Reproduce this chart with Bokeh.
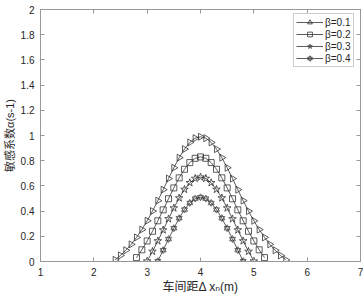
import math
from bokeh.plotting import figure
from bokeh.models import LinearAxis, FixedTicker, Legend, LegendItem, Range1d
from bokeh.embed import file_html
from bokeh.resources import INLINE

# ---- data ----
x1 = [2.4, 2.5, 2.6, 2.7, 2.8, 2.9, 3.0, 3.1, 3.2, 3.3, 3.4, 3.5, 3.6, 3.7, 3.8, 3.9, 4.0,
      4.1, 4.2, 4.3, 4.4, 4.5, 4.6, 4.7, 4.8, 4.9, 5.0, 5.1, 5.2, 5.3, 5.4, 5.5, 5.6]
y1 = [0.013, 0.048, 0.089, 0.136, 0.191, 0.253, 0.323, 0.400, 0.483, 0.570, 0.658, 0.744,
      0.824, 0.892, 0.945, 0.979, 0.990, 0.979, 0.945, 0.892, 0.824, 0.744, 0.658, 0.570,
      0.483, 0.400, 0.323, 0.253, 0.191, 0.136, 0.089, 0.048, 0.013]
x2 = [2.8, 2.9, 3.0, 3.1, 3.2, 3.3, 3.4, 3.5, 3.6, 3.7, 3.8, 3.9, 4.0,
      4.1, 4.2, 4.3, 4.4, 4.5, 4.6, 4.7, 4.8, 4.9, 5.0, 5.1, 5.2]
y2 = [0.031, 0.093, 0.163, 0.240, 0.323, 0.410, 0.498, 0.584, 0.664, 0.732, 0.785, 0.819,
      0.830, 0.819, 0.785, 0.732, 0.664, 0.584, 0.498, 0.410, 0.323, 0.240, 0.163, 0.093, 0.031]
x3 = [3.0, 3.1, 3.2, 3.3, 3.4, 3.5, 3.6, 3.7, 3.8, 3.9, 4.0,
      4.1, 4.2, 4.3, 4.4, 4.5, 4.6, 4.7, 4.8, 4.9, 5.0]
y3 = [0.003, 0.080, 0.163, 0.250, 0.338, 0.424, 0.504, 0.572, 0.625, 0.659, 0.670,
      0.659, 0.625, 0.572, 0.504, 0.424, 0.338, 0.250, 0.163, 0.080, 0.003]
x4 = [3.2, 3.3, 3.4, 3.5, 3.6, 3.7, 3.8, 3.9, 4.0, 4.1, 4.2, 4.3, 4.4, 4.5, 4.6, 4.7, 4.8]
y4 = [0.003, 0.090, 0.178, 0.264, 0.344, 0.412, 0.465, 0.499, 0.510,
      0.499, 0.465, 0.412, 0.344, 0.264, 0.178, 0.090, 0.003]
series_labels = ["β=0.1", "β=0.2", "β=0.3", "β=0.4"]

x_ticks = [1, 2, 3, 4, 5, 6, 7]
x_tick_labels = ["1", "2", "3", "4", "5", "6", "7"]
y_ticks = [0, 0.2, 0.4, 0.6, 0.8, 1, 1.2, 1.4, 1.6, 1.8, 2]
y_tick_labels = ["0", "0.2", "0.4", "0.6", "0.8", "1", "1.2", "1.4", "1.6", "1.8", "2"]

x_label = "车间距Δ xₙ(m)"
y_label = "敏感系数α(s-1)"

# ---- style ----
AXC = "#999999"
TXT = "#262626"
LC = "#333333"
NUMF = "Liberation Sans"
CJKF = "Liberation Sans, Noto Sans CJK SC, DejaVu Sans"

p = figure(width=363, height=297, output_backend="svg", toolbar_location=None,
           x_range=Range1d(1, 7), y_range=Range1d(0, 2),
           min_border_left=36, min_border_right=3, min_border_top=9, min_border_bottom=36)
p.grid.visible = False
p.outline_line_color = AXC
p.background_fill_color = "white"
p.border_fill_color = "white"

for ax, ticks, labels in [(p.xaxis[0], x_ticks, x_tick_labels), (p.yaxis[0], y_ticks, y_tick_labels)]:
    ax.ticker = FixedTicker(ticks=ticks)
    ax.major_label_overrides = dict(zip(ticks, labels))
    ax.major_tick_in = 4
    ax.major_tick_out = 0
    ax.minor_tick_line_color = None
    ax.axis_line_color = AXC
    ax.major_tick_line_color = AXC
    ax.major_label_text_font = NUMF
    ax.major_label_text_font_size = "10px"
    ax.major_label_text_color = TXT
    ax.major_label_standoff = 6
    ax.axis_label_text_font = CJKF
    ax.axis_label_text_font_style = "normal"
    ax.axis_label_text_color = TXT

p.xaxis[0].axis_label = x_label
p.xaxis[0].axis_label_text_font_size = "12px"
p.xaxis[0].axis_label_standoff = 1
p.yaxis[0].axis_label = y_label
p.yaxis[0].axis_label_text_font_size = "11px"
p.yaxis[0].axis_label_standoff = 2

for loc, ticks in [("right", y_ticks), ("above", x_ticks)]:
    ax = LinearAxis(ticker=FixedTicker(ticks=ticks),
                    major_label_overrides={t: "" for t in ticks},
                    major_label_text_font_size="0px", major_label_standoff=0,
                    major_tick_in=4, major_tick_out=0, minor_tick_line_color=None,
                    axis_line_color=AXC, major_tick_line_color=AXC)
    p.add_layout(ax, loc)

# ---- series ----
l1 = p.line(x1, y1, line_color=LC, line_width=0.8)
m1 = p.scatter(x1, y1, marker="triangle", size=7, angle=-math.pi / 2,
               fill_color=None, line_color=LC, line_width=0.8)
l2 = p.line(x2, y2, line_color=LC, line_width=0.8)
m2 = p.scatter(x2, y2, marker="square", size=6, fill_color=None, line_color=LC, line_width=0.8)
l3 = p.line(x3, y3, line_color=LC, line_width=0.8)
m3 = p.scatter(x3, y3, marker="star", size=8, fill_color=None, line_color=LC, line_width=0.8)
l4 = p.line(x4, y4, line_color=LC, line_width=0.8)
m4a = p.scatter(x4, y4, marker="triangle", size=6, fill_color=None, line_color=LC, line_width=0.7)
m4b = p.scatter(x4, y4, marker="inverted_triangle", size=6, fill_color=None, line_color=LC, line_width=0.7)

legend = Legend(items=[
    LegendItem(label=series_labels[0], renderers=[l1, m1]),
    LegendItem(label=series_labels[1], renderers=[l2, m2]),
    LegendItem(label=series_labels[2], renderers=[l3, m3]),
    LegendItem(label=series_labels[3], renderers=[l4, m4a, m4b]),
], location=(253, 194), margin=0, padding=2, spacing=0,
    glyph_width=27, glyph_height=12, label_height=12, label_standoff=2,
    label_text_font=NUMF, label_text_font_size="10px", label_text_color=TXT,
    border_line_color=AXC, border_line_width=1, background_fill_color="white",
    background_fill_alpha=1)
p.add_layout(legend)

open("out.html", "w").write(file_html(p, INLINE))
